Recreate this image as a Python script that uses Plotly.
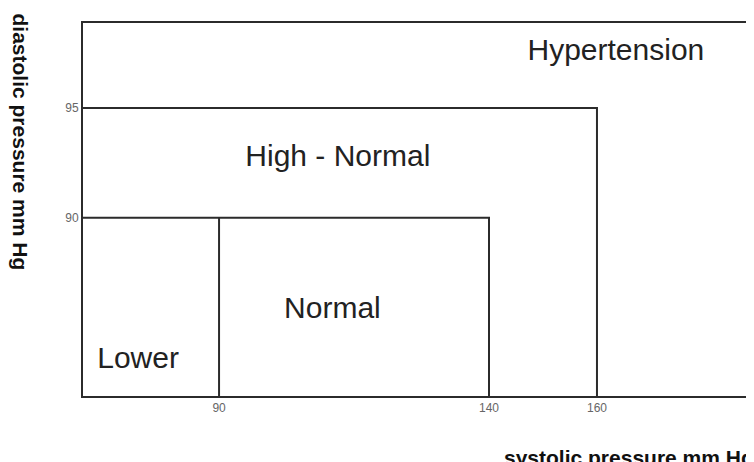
import plotly.graph_objects as go

sys_ticks = [90, 140, 160]
dia_ticks = [90, 95]
x_min, x_max = 64.8, 188.9
y_min, y_max = 81.9, 98.86

zone_labels = ["Hypertension", "High - Normal", "Normal", "Lower"]
zone_x = [163.5, 112.0, 111.0, 75.0]
zone_y = [97.5, 92.7, 85.8, 83.5]

fig = go.Figure()
ln = dict(color="#2b2b2b", width=2)
fig.add_trace(go.Scatter(x=[x_min, sys_ticks[2], sys_ticks[2]], y=[dia_ticks[1], dia_ticks[1], y_min], mode="lines", line=ln))
fig.add_trace(go.Scatter(x=[x_min, sys_ticks[1], sys_ticks[1]], y=[dia_ticks[0], dia_ticks[0], y_min], mode="lines", line=ln))
fig.add_trace(go.Scatter(x=[sys_ticks[0], sys_ticks[0]], y=[dia_ticks[0], y_min], mode="lines", line=ln))
fig.add_trace(go.Scatter(x=zone_x, y=zone_y, text=zone_labels, mode="text",
                         textfont=dict(family="Liberation Sans, Arial", size=30, color="#222")))

axcommon = dict(showgrid=False, zeroline=False, showline=True, linecolor="#2b2b2b", linewidth=2,
                mirror=True, ticks="", tickfont=dict(family="Liberation Sans Narrow, Liberation Sans", size=12, color="#666"))
fig.update_xaxes(range=[x_min, x_max], tickvals=sys_ticks, **axcommon)
fig.update_yaxes(range=[y_min, y_max], tickvals=dia_ticks, **axcommon)
fig.update_layout(width=754, height=462, margin=dict(l=75, r=9, t=15, b=74, autoexpand=False),
                  plot_bgcolor="white", paper_bgcolor="white", showlegend=False)
fig.add_annotation(text="<b>systolic pressure mm Hg</b>", xref="paper", yref="paper", x=1.005, y=-0.13,
                   xanchor="right", yanchor="top", showarrow=False,
                   font=dict(family="Liberation Sans, Arial", size=21, color="#111"))
fig.add_annotation(text="<b>diastolic pressure mm Hg</b>", xref="paper", yref="paper", x=-0.113, y=1.03,
                   xanchor="left", yanchor="top", textangle=90, showarrow=False,
                   font=dict(family="Liberation Sans, Arial", size=21, color="#111"))
fig.write_html("out.html")
